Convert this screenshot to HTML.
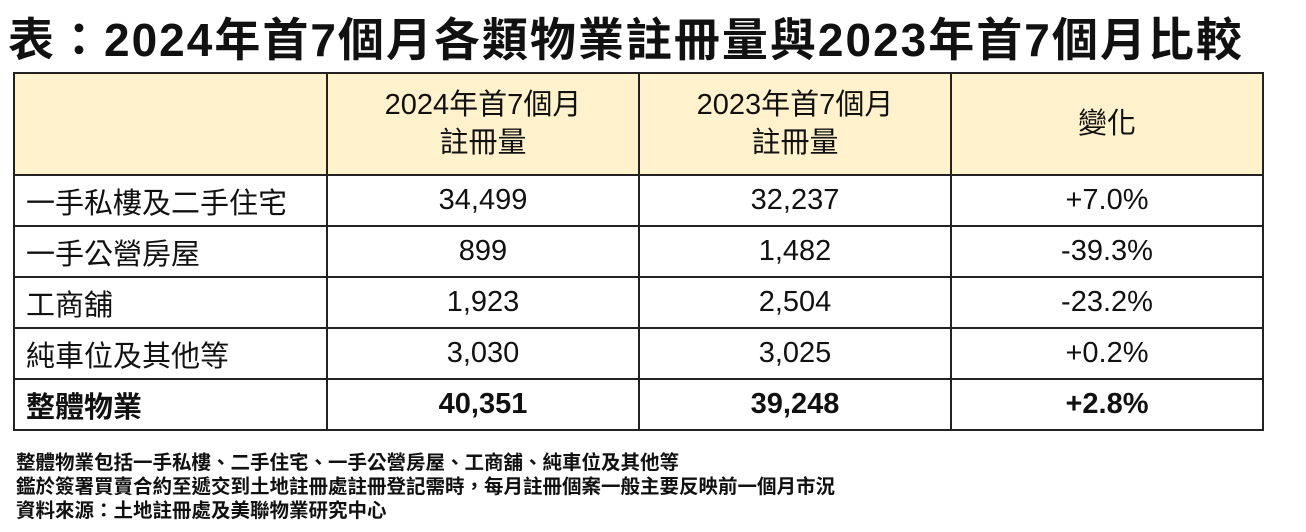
<!DOCTYPE html>
<html><head><meta charset="utf-8"><style>
body{margin:0;width:1306px;height:532px;background:#fff;position:relative;overflow:hidden;font-family:"Liberation Sans","Noto Sans CJK TC",sans-serif;color:#111}
.t{position:absolute;left:8px;top:4px;font-size:46px;font-weight:bold;letter-spacing:2px;white-space:nowrap}
table{position:absolute;left:13px;top:72px;border-collapse:collapse;font-size:29px}
td{border:2px solid #222;padding:0;text-align:center;height:49px}
td:first-child{text-align:left;padding-left:11px;width:300px}
td.c{width:310px}
tr.h td{background:#fff2cc;height:100px;line-height:38px}
tr.b td{font-weight:bold}
.n{position:absolute;left:16px;font-size:19.5px;font-weight:bold;white-space:nowrap}
</style></head><body>
<div class="t">表：2024年首7個月各類物業註冊量與2023年首7個月比較</div>
<table>
<tr class="h"><td></td><td class="c">2024年首7個月<br>註冊量</td><td class="c">2023年首7個月<br>註冊量</td><td class="c">變化</td></tr>
<tr><td>一手私樓及二手住宅</td><td>34,499</td><td>32,237</td><td>+7.0%</td></tr>
<tr><td>一手公營房屋</td><td>899</td><td>1,482</td><td>-39.3%</td></tr>
<tr><td>工商舖</td><td>1,923</td><td>2,504</td><td>-23.2%</td></tr>
<tr><td>純車位及其他等</td><td>3,030</td><td>3,025</td><td>+0.2%</td></tr>
<tr class="b"><td>整體物業</td><td>40,351</td><td>39,248</td><td>+2.8%</td></tr>
</table>
<div class="n" style="top:446px">整體物業包括一手私樓、二手住宅、一手公營房屋、工商舖、純車位及其他等</div>
<div class="n" style="top:470px">鑑於簽署買賣合約至遞交到土地註冊處註冊登記需時，每月註冊個案一般主要反映前一個月市況</div>
<div class="n" style="top:494px">資料來源：土地註冊處及美聯物業研究中心</div>
</body></html>
